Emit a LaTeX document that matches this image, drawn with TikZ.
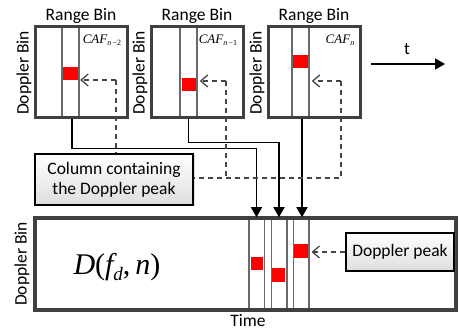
\documentclass[tikz,border=0pt]{standalone}
\usepackage{fontspec}
\setmainfont{Carlito}
\newfontfamily\tnr{Liberation Serif}
\usetikzlibrary{arrows.meta,shadows}
\definecolor{framegray}{HTML}{404040}
\definecolor{colgray}{HTML}{6A6A6A}
\definecolor{dashgray}{HTML}{454545}
\newcommand{\cafl}[1]{{\tnr\fontsize{13}{13}\selectfont\itshape CAF\raisebox{-2.5pt}{\fontsize{8}{8}\selectfont #1}}}
\tikzset{
  lbl/.style={font=\fontsize{17.5}{20}\selectfont, inner sep=0pt},
  colbox/.style={draw=colgray, line width=1.5pt, minimum width=17pt, minimum height=91pt, inner sep=0pt},
  bcol/.style={draw=colgray, line width=1.5pt, minimum width=15.5pt, minimum height=92pt, inner sep=0pt},
  cafbox/.style={draw=framegray, line width=3pt, minimum width=92pt, minimum height=91pt, inner sep=0pt},
  peak/.style={fill=red, inner sep=0pt, minimum width=14pt, minimum height=13pt},
  callout/.style={draw=black, line width=1.3pt, top color=white, bottom color=black!13,
     drop shadow={opacity=0.25, shadow xshift=1.5pt, shadow yshift=-1.5pt},
     font=\fontsize{17.5}{20}\selectfont, align=center, inner sep=0pt},
  conn/.style={draw=black, line width=1.5pt, -{Triangle[length=10pt,width=11pt]}},
  dconn/.style={draw=dashgray, line width=1.3pt, dash pattern=on 5pt off 4pt},
  dtip/.style={-{Straight Barb[length=7pt,width=12pt,line width=1.3pt]}}
}
\begin{document}
\begin{tikzpicture}[x=1pt,y=-1pt]
\useasboundingbox (0,0) rectangle (459,331);
% top columns
\node[colbox] (c1) at (70.5,72.5) {};
\node[colbox] (c2) at (188.5,72.5) {};
\node[colbox] (c3) at (300.5,72.5) {};
% peaks
\node[peak, minimum width=15pt] (p1) at (70.5,73.5) {};
\node[peak] (p2) at (188.5,84.5) {};
\node[peak, minimum width=15pt] (p3) at (300.5,61.5) {};
% frames
\node[cafbox] (b1) at (81,72.5) {};
\node[cafbox] (b2) at (197,72.5) {};
\node[cafbox] (b3) at (314,72.5) {};
% labels
\node[lbl] (rb1) at (81,16) {Range Bin};
\node[lbl] (rb2) at (197,16) {Range Bin};
\node[lbl] (rb3) at (314,16) {Range Bin};
\node[lbl, rotate=90] (db1) at (24,73) {Doppler Bin};
\node[lbl, rotate=90] (db2) at (140,73) {Doppler Bin};
\node[lbl, rotate=90] (db3) at (257,73) {Doppler Bin};
\node[inner sep=0pt] (caf1) at (102,40) {\cafl{n\,\upshape−2}};
\node[inner sep=0pt] (caf2) at (218,40) {\cafl{n\,\upshape−1}};
\node[inner sep=0pt] (caf3) at (340,40) {\cafl{n}};
% time arrow
\coordinate (t0) at (371,64);
\coordinate (t1) at (445,64);
\draw[conn] (t0) -- (t1);
\node[lbl] (tl) at (407,49) {t};
% bottom box
\node[bcol] (bc1) at (256.5,264) {};
\node[bcol] (bc2) at (279,264) {};
\node[bcol] (bc3) at (301,264) {};
\node[peak, minimum width=12pt] (q1) at (257,263.5) {};
\node[peak, minimum width=13pt, minimum height=14pt] (q2) at (278.5,275) {};
\node[peak, minimum width=14pt, minimum height=14pt] (q3) at (301,251) {};
\node[draw=framegray, line width=3.5pt, minimum width=421pt, minimum height=92pt, inner sep=0pt] (big) at (245.5,264) {};
\node[lbl, rotate=90] (db4) at (22,264) {Doppler Bin};
\node[inner sep=0pt, anchor=base] (dfn) at (117,275) {\tnr\fontsize{30}{30}\selectfont\itshape D\upshape(\itshape f\raisebox{-6pt}{\fontsize{19}{19}\selectfont d}\upshape,\itshape\,n\upshape)};
\node[lbl] (time) at (248,320.5) {Time};
% callouts
\node[callout, minimum width=158pt, minimum height=51pt] (col) at (114,179.5) {Column containing\\the Doppler peak};
\node[callout, minimum width=108pt, minimum height=38pt] (dp) at (400,252) {Doppler peak};
% solid connectors
\draw[conn] ([xshift=1.5pt]c1.south) -- ++(0,30) -| (bc1.north);
\draw[conn] (c2.south) -- ++(0,24) -| (bc2.north);
\draw[conn] ([xshift=1.5pt]c3.south) -- ([xshift=1pt]bc3.north);
% dashed connectors
\coordinate (k1) at (116,80);
\coordinate (k2) at (226,81);
\coordinate (k3) at (341,81);
\draw[dconn, dtip] (k1) -- ([xshift=2pt]p1.east |- k1);
\draw[dconn, dtip] (k2) -- ([xshift=2pt]c2.east |- k2);
\draw[dconn, dtip] (k3) -- ([xshift=2pt]c3.east |- k3);
\draw[dconn] (k1) -- (k1 |- col.north);
\draw[dconn] (k3) -- ++(0,97) -- (col.east |- 0,178);
\draw[dconn] (k2) -- (k2 |- 0,178);
\draw[dconn, dtip] (dp.west) -- ([xshift=2pt]bc3.east |- dp.west);
\end{tikzpicture}
\end{document}
